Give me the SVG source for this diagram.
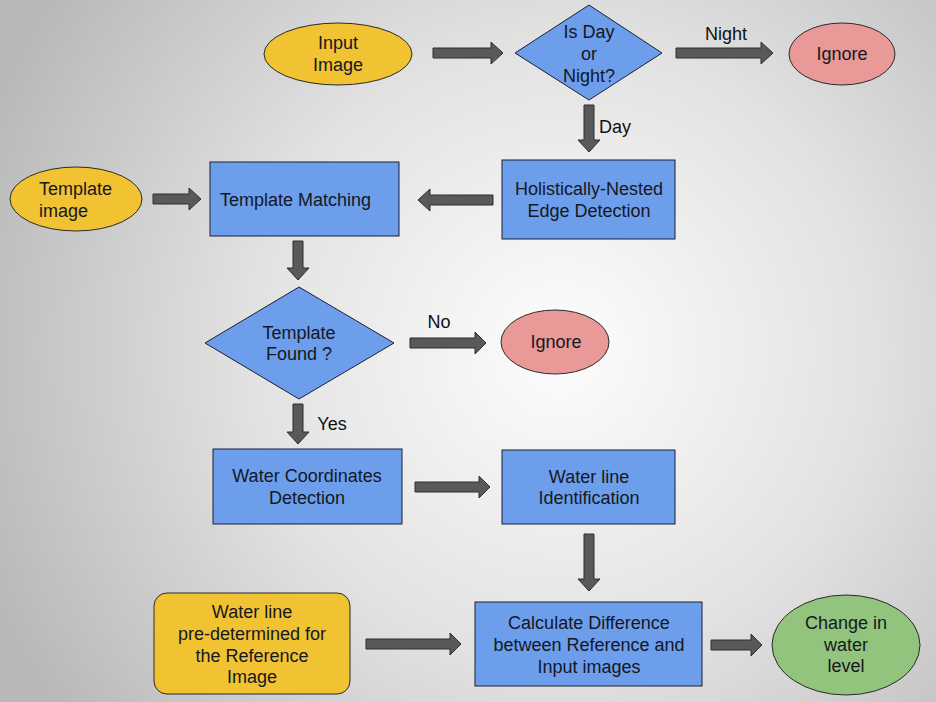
<svg xmlns="http://www.w3.org/2000/svg" width="936" height="702" viewBox="0 0 936 702">
<defs>
<radialGradient id="bg" cx="560" cy="350" r="620" gradientUnits="userSpaceOnUse">
<stop offset="0" stop-color="#fdfdfd"/>
<stop offset="0.5" stop-color="#e2e2e2"/>
<stop offset="1" stop-color="#b8b8b8"/>
</radialGradient>
<style>
.box{fill:#6d9eeb;stroke:#1c2033;stroke-width:1}
.term{fill:#f1c232;stroke:#2a2a2a;stroke-width:1}
.ign{fill:#ea9999;stroke:#2a2a2a;stroke-width:1}
.grn{fill:#93c47d;stroke:#2a2a2a;stroke-width:1}
.arr{fill:#595959;stroke:#2e2e2e;stroke-width:1}
text{font-family:"Liberation Sans",Arial,sans-serif;font-size:18px;fill:#141824;text-anchor:middle}
.lbl{fill:#111}
</style>
</defs>
<rect width="936" height="702" fill="url(#bg)"/>
<g id="connectors">
<path class="arr" d="M433,48 L491,48 L491,42 L503,53 L491,64 L491,58 L433,58 Z"/>
<path class="arr" d="M676,48 L761,48 L761,42 L773,53 L761,64 L761,58 L676,58 Z"/>
<text class="lbl" x="726" y="40">Night</text>
<path class="arr" d="M584,105 L584,140 L578,140 L589,152 L600,140 L594,140 L594,105 Z"/>
<text class="lbl" x="615" y="133">Day</text>
<path class="arr" d="M493,195 L430,195 L430,189 L418,200 L430,211 L430,205 L493,205 Z"/>
<path class="arr" d="M153,194 L189,194 L189,188 L201,199 L189,210 L189,204 L153,204 Z"/>
<path class="arr" d="M293,241 L293,268 L287,268 L298,280 L309,268 L303,268 L303,241 Z"/>
<path class="arr" d="M410,338 L475,338 L475,332 L486,343 L475,354 L475,348 L410,348 Z"/>
<text class="lbl" x="439" y="328">No</text>
<path class="arr" d="M293,404 L293,432 L287,432 L298,444 L309,432 L303,432 L303,404 Z"/>
<text class="lbl" x="332" y="430">Yes</text>
<path class="arr" d="M415,482 L479,482 L479,476 L490,487 L479,498 L479,492 L415,492 Z"/>
<path class="arr" d="M584,534 L584,579 L578,579 L589,591 L600,579 L594,579 L594,534 Z"/>
<path class="arr" d="M366,639 L450,639 L450,633 L461,644 L450,655 L450,649 L366,649 Z"/>
<path class="arr" d="M711,640 L751,640 L751,634 L762,645 L751,656 L751,650 L711,650 Z"/>
</g>
<g id="input-image">
<ellipse class="term" cx="338" cy="54" rx="74" ry="31"/>
<text x="338" y="49">Input</text>
<text x="338" y="71">Image</text>
</g>
<g id="day-night">
<polygon class="box" points="589,5 662,53 589,100 515,53"/>
<text x="589" y="38">Is Day</text>
<text x="589" y="60">or</text>
<text x="589" y="82">Night?</text>
</g>
<g id="ignore-1">
<ellipse class="ign" cx="842" cy="54" rx="53" ry="31"/>
<text x="842" y="60">Ignore</text>
</g>
<g id="hed">
<rect class="box" x="502" y="160" width="173" height="79"/>
<text x="589" y="195">Holistically-Nested</text>
<text x="589" y="217">Edge Detection</text>
</g>
<g id="template-matching">
<rect class="box" x="210" y="162" width="189" height="74"/>
<text x="220" y="206" style="text-anchor:start">Template Matching</text>
</g>
<g id="template-image">
<ellipse class="term" cx="76" cy="199" rx="66" ry="32"/>
<text x="39" y="195" style="text-anchor:start">Template</text>
<text x="39" y="217" style="text-anchor:start">image</text>
</g>
<g id="template-found">
<polygon class="box" points="299,287 394,343 299,399 205,343"/>
<text x="299" y="339">Template</text>
<text x="299" y="360">Found ?</text>
</g>
<g id="ignore-2">
<ellipse class="ign" cx="555" cy="342" rx="54" ry="32"/>
<text x="556" y="348">Ignore</text>
</g>
<g id="water-coords">
<rect class="box" x="213" y="449" width="189" height="75"/>
<text x="307" y="482">Water Coordinates</text>
<text x="307" y="504">Detection</text>
</g>
<g id="water-line-id">
<rect class="box" x="502" y="450" width="173" height="74"/>
<text x="589" y="483">Water line</text>
<text x="589" y="504">Identification</text>
</g>
<g id="predetermined">
<rect class="term" x="154" y="593" width="196" height="101" rx="13"/>
<text x="252" y="618">Water line</text>
<text x="252" y="640">pre-determined for</text>
<text x="252" y="662">the Reference</text>
<text x="252" y="683">Image</text>
</g>
<g id="calc-diff">
<rect class="box" x="475" y="602" width="227" height="84"/>
<text x="589" y="629">Calculate Difference</text>
<text x="589" y="651">between Reference and</text>
<text x="589" y="673">Input images</text>
</g>
<g id="change">
<ellipse class="grn" cx="846" cy="645" rx="74" ry="50"/>
<text x="846" y="629">Change in</text>
<text x="846" y="651">water</text>
<text x="846" y="672">level</text>
</g>
</svg>
